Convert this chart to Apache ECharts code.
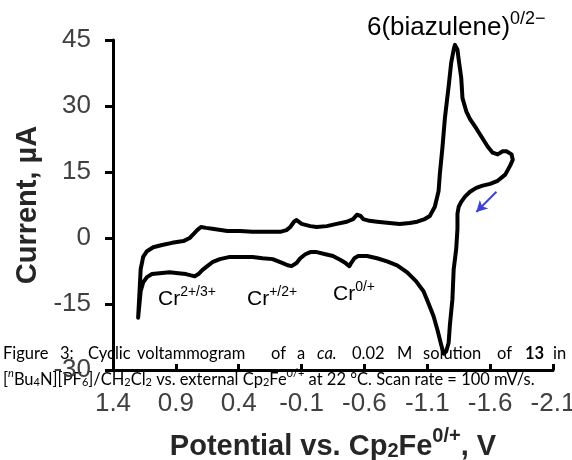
<!DOCTYPE html>
<html lang="en">
<head>
    <meta charset="UTF-8">
    <title>Cyclic voltammogram</title>
    <script src="https://cdn.jsdelivr.net/npm/echarts@6.0.0/dist/echarts.min.js"></script>
    <style>
        html, body { margin: 0; padding: 0; background: #fff; }
        #chart { width: 572px; height: 460px; }
    </style>
</head>
<body>
    <div id="chart"></div>
    <script>
        // potential (V vs Cp2Fe) and current (uA)
        // first half: from the anodic vertex over to the cathodic vertex (top trace)
        const forwardE = [1.20, 1.19, 1.18, 1.16, 1.13, 1.08, 1.01, 0.93, 0.84, 0.79, 0.76, 0.73, 0.70, 0.66, 0.61, 0.49, 0.39, 0.29, 0.17, 0.07,
            0.02, -0.01, -0.04, -0.06, -0.10, -0.17, -0.22, -0.30, -0.38, -0.46, -0.51, -0.54, -0.57, -0.59, -0.64, -0.70, -0.80, -0.88, -0.96, -1.02,
            -1.08, -1.12, -1.16, -1.19, -1.20, -1.22, -1.24, -1.27, -1.29, -1.31, -1.32, -1.34, -1.35, -1.37, -1.38, -1.41, -1.44, -1.49, -1.54, -1.58,
            -1.62, -1.66, -1.70, -1.73, -1.77, -1.78];
        const forwardI = [-18.1, -12.8, -7.1, -4.3, -3.0, -2.1, -1.6, -1.1, -0.7, 0.0, 0.9, 1.8, 2.5, 2.3, 2.1, 1.6, 1.6, 1.4, 1.4, 1.4,
            1.8, 2.5, 3.7, 4.1, 3.2, 2.7, 2.5, 2.7, 3.2, 3.7, 4.3, 5.3, 5.0, 4.3, 3.9, 3.7, 3.4, 3.2, 3.4, 3.7,
            4.3, 5.0, 7.1, 10.7, 14.6, 20.4, 27.2, 34.5, 39.8, 42.8, 43.9, 42.8, 40.5, 36.4, 31.8, 28.8, 27.0, 24.9, 22.6, 20.8,
            19.4, 19.0, 19.7, 19.7, 19.0, 17.8];
        // second half: back from the cathodic vertex to the anodic one (bottom trace)
        const reverseE = [-1.76, -1.72, -1.66, -1.60, -1.54, -1.49, -1.44, -1.40, -1.37, -1.35, -1.34, -1.34, -1.33, -1.31, -1.30, -1.28, -1.27, -1.25, -1.23,
            -1.21, -1.18, -1.15, -1.11, -1.07, -1.01, -0.94, -0.86, -0.78, -0.70, -0.62, -0.55, -0.52, -0.49, -0.48, -0.45, -0.41, -0.35, -0.29, -0.22,
            -0.17, -0.13, -0.09, -0.06, -0.02, 0.01, 0.05, 0.13, 0.21, 0.29, 0.39, 0.47, 0.55, 0.61, 0.65, 0.69, 0.72, 0.75, 0.78, 0.82,
            0.88, 0.95, 1.03, 1.09, 1.13, 1.16, 1.18, 1.19, 1.20];
        const reverseI = [16.5, 14.4, 13.0, 12.3, 11.9, 11.4, 10.5, 9.4, 8.2, 7.1, 5.5, 2.1, -2.5, -7.1, -13.9, -19.7, -23.8, -25.8, -26.3,
            -24.2, -20.8, -17.8, -14.9, -12.1, -9.8, -7.8, -6.2, -5.3, -4.6, -4.1, -4.1, -4.6, -5.9, -6.4, -5.7, -5.0, -4.1, -3.7, -3.2,
            -3.2, -3.7, -4.6, -5.7, -6.4, -6.2, -5.7, -4.8, -4.6, -4.3, -4.3, -4.3, -4.8, -5.5, -6.4, -7.3, -8.2, -8.7, -8.5, -8.2,
            -8.0, -7.8, -8.0, -8.2, -8.9, -10.1, -12.1, -15.1, -18.1];
        // scan direction arrow (tail, head) in data units
        const arrowE = [-1.65, -1.49];
        const arrowI = [10.5, 5.9];

        const xTicks = { min: -2.1, max: 1.4, step: 0.5 };
        const yTicks = { min: -30, max: 45, step: 15 };

        let cvData = [];
        forwardE.forEach((e, i) => cvData.push([e, forwardI[i]]));
        reverseE.forEach((e, i) => cvData.push([e, reverseI[i]]));

        const sans = "'Liberation Sans', Arial, sans-serif";
        const captionFont = "Lato, 'Open Sans', sans-serif";
        const ink = '#262626';
        const grey = '#404040';

        // rich styles for super/subscripts
        function richSet(size, color, bold) {
            let small = Math.round(size * 0.68);
            let w = bold ? 'bold' : 'normal';
            return {
                n: { fontSize: size, fontFamily: sans, color: color, fontWeight: w, lineHeight: Math.round(size * 1.2), verticalAlign: 'bottom' },
                sup: { fontSize: small, fontFamily: sans, color: color, fontWeight: w, lineHeight: small, verticalAlign: 'top' },
                sub: { fontSize: small, fontFamily: sans, color: color, fontWeight: w, lineHeight: Math.round(small * 0.8), verticalAlign: 'bottom' }
            };
        }

        function capRich(size) {
            let small = Math.round(size * 0.65);
            let lh = Math.round(size * 1.2);
            return {
                n: { fontSize: size, fontFamily: captionFont, color: '#000', lineHeight: lh, verticalAlign: 'bottom' },
                i: { fontSize: size, fontFamily: captionFont, color: '#000', fontStyle: 'italic', lineHeight: lh, verticalAlign: 'bottom' },
                b: { fontSize: size, fontFamily: captionFont, color: '#000', fontWeight: 'bold', lineHeight: lh, verticalAlign: 'bottom' },
                sup: { fontSize: small, fontFamily: captionFont, color: '#000', lineHeight: small, verticalAlign: 'top' },
                supi: { fontSize: small, fontFamily: captionFont, color: '#000', fontStyle: 'italic', lineHeight: small, verticalAlign: 'top' },
                sub: { fontSize: small, fontFamily: captionFont, color: '#000', lineHeight: Math.round(small * 0.8), verticalAlign: 'bottom' }
            };
        }

        // first caption line is justified: word and its left edge
        const captionLine1 = [
            ['{n|Figure}', 3], ['{n|3:}', 60], ['{n|Cyclic}', 88], ['{n|voltammogram}', 137], ['{n|of}', 271],
            ['{n|a}', 297], ['{i|ca.}', 317], ['{n|0.02}', 352], ['{n|M}', 397], ['{n|solution}', 423],
            ['{n|of}', 497], ['{b|13}', 525], ['{n|in}', 553]
        ];
        const captionLine2 = '{n|[}{supi|n}{n|Bu}{sub|4}{n|N][PF}{sub|6}{n|]/CH}{sub|2}{n|Cl}{sub|2}{n| vs. external Cp}{sub|2}{n|Fe}{sup|0/+}{n| at 22 °C. Scan rate = 100 mV/s.}';

        let graphics = [];
        captionLine1.forEach(w => {
            graphics.push({
                type: 'text', left: w[1], top: 345, z: -1,
                style: { text: w[0], rich: capRich(16.5) }
            });
        });
        graphics.push({
            type: 'text', left: 3, top: 368, z: -1,
            style: { text: captionLine2, rich: capRich(16.5) }
        });

        // peak labels
        const labelRich = richSet(21, grey, false);
        graphics.push({ type: 'text', left: 158, top: 285, style: { text: '{n|Cr}{sup|2+/3+}', rich: labelRich } });
        graphics.push({ type: 'text', left: 247, top: 285, style: { text: '{n|Cr}{sup|+/2+}', rich: labelRich } });
        graphics.push({ type: 'text', left: 333, top: 280, style: { text: '{n|Cr}{sup|0/+}', rich: labelRich } });
        graphics.push({ type: 'text', left: 367, top: 10, style: { text: '{n|6(biazulene)}{sup|0/2\u2212}', rich: richSet(26, ink, false) } });

        let chart = echarts.init(document.getElementById('chart'));
        chart.setOption({
            animation: false,
            backgroundColor: '#fff',
            grid: { left: 113, right: 19, top: 40, bottom: 90, outerBoundsMode: 'none', containLabel: false },
            xAxis: {
                type: 'value',
                inverse: true,
                min: xTicks.min, max: xTicks.max, interval: xTicks.step,
                name: '{n|Potential vs. Cp}{sub|2}{n|Fe}{sup|0/+}{n|, V}',
                nameLocation: 'middle',
                nameGap: 56,
                nameTextStyle: { rich: richSet(29, ink, true) },
                axisLine: { show: true, onZero: false, lineStyle: { color: '#000', width: 3 } },
                axisTick: { show: true, inside: true, length: 6, lineStyle: { color: '#000', width: 3 } },
                axisLabel: {
                    margin: 21, fontSize: 26, fontFamily: sans, color: grey,
                    formatter: v => (Math.round(v * 10) / 10).toFixed(1)
                },
                splitLine: { show: false }
            },
            yAxis: {
                type: 'value',
                min: yTicks.min, max: yTicks.max, interval: yTicks.step,
                name: 'Current, µA',
                nameLocation: 'middle',
                nameGap: 70,
                nameTextStyle: { fontSize: 29, fontWeight: 'bold', fontFamily: sans, color: ink },
                axisLine: { show: true, onZero: false, lineStyle: { color: '#000', width: 3 } },
                axisTick: { show: true, inside: false, length: 8, lineStyle: { color: '#000', width: 3 } },
                axisLabel: { margin: 22, fontSize: 26, fontFamily: sans, color: grey },
                splitLine: { show: false }
            },
            series: [{
                type: 'line',
                data: cvData,
                showSymbol: false,
                smooth: false,
                lineStyle: { color: '#000', width: 4, join: 'round', cap: 'round' },
                markLine: {
                    silent: true,
                    symbol: ['none', 'arrow'],
                    symbolSize: [9, 11],
                    label: { show: false },
                    lineStyle: { color: '#4040d8', width: 2, type: 'solid' },
                    data: [[{ coord: [arrowE[0], arrowI[0]] }, { coord: [arrowE[1], arrowI[1]] }]]
                }
            }],
            graphic: graphics
        });
    </script>
</body>
</html>
